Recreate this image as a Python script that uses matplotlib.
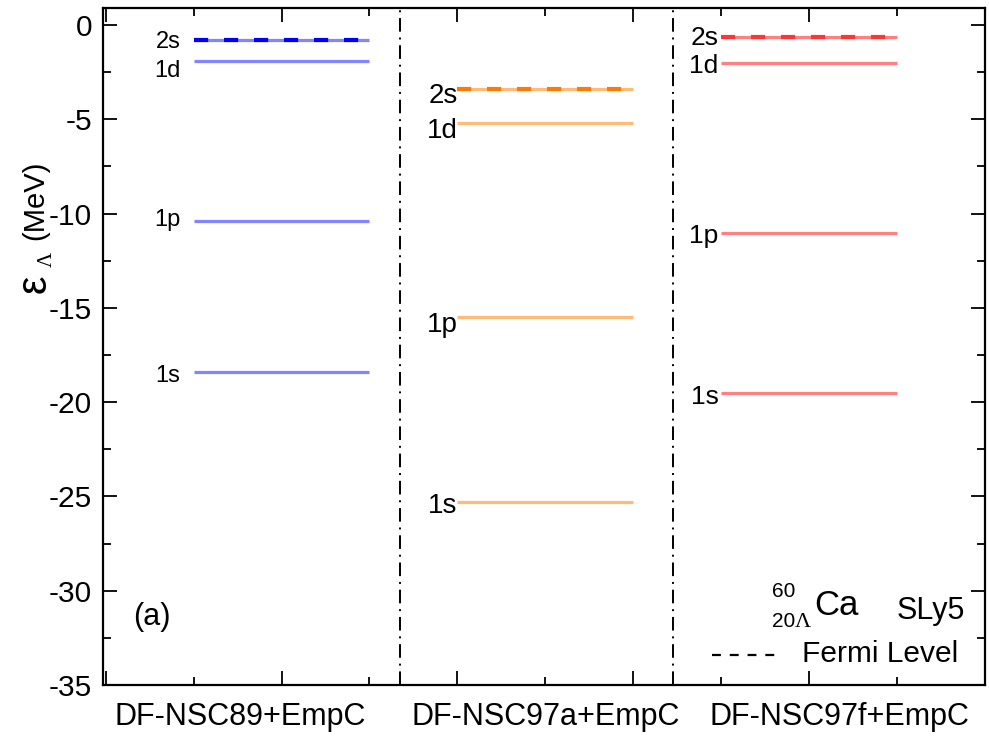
import matplotlib
matplotlib.use("Agg")
import matplotlib.pyplot as plt
from matplotlib.ticker import MultipleLocator

plt.rcParams['font.family'] = ['Liberation Sans', 'DejaVu Sans']
plt.rcParams['axes.unicode_minus'] = False

# single-particle Lambda levels (MeV), 60/20Lambda Ca with SLy5
models = ['DF-NSC89+EmpC', 'DF-NSC97a+EmpC', 'DF-NSC97f+EmpC']
levels = ['2s', '1d', '1p', '1s']
e_nsc89 = [-0.80, -1.89, -10.37, -18.38]
e_nsc97a = [-3.39, -5.21, -15.50, -25.28]
e_nsc97f = [-0.62, -2.03, -11.01, -19.53]
fermi = [-0.80, -3.39, -0.62]   # highest occupied = 2s

energies = [e_nsc89, e_nsc97a, e_nsc97f]

# styling
light = ['#8484ff', '#ffbb78', '#ff8080']
dark = ['#0000ff', '#ff7a00', '#ff3535']
x_ranges = [(1, 3), (4, 6), (7, 9)]
lab_x = [0.85, 4.0, 6.97]
lab_size = [17, 20, 19]
# how far (px) the label baseline sits below the level line
lab_drop = [[8, 16, 5, 10], [14, 15, 15, 11], [8, 10, 10, 11]]
title_x = [1.53, 5.0, 8.35]

fig = plt.figure(figsize=(9.89, 7.40), dpi=100)
ax = fig.add_axes([103/989, 55/740, 882/989, 677/740])

for i in range(3):
    x0, x1 = x_ranges[i]
    for j, e in enumerate(energies[i]):
        ax.plot([x0, x1], [e, e], color=light[i], lw=2.3, solid_capstyle='butt')
        ax.annotate(levels[j], xy=(lab_x[i], e), xytext=(0, -lab_drop[i][j]*0.72),
                    textcoords='offset points', ha='right', va='baseline',
                    fontsize=lab_size[i])
    ax.plot([x0, x1], [fermi[i], fermi[i]], color=dark[i], lw=3,
            dashes=(3.4, 3.8), dash_capstyle='butt')
    ax.text(title_x[i], -0.047, models[i], transform=ax.get_xaxis_transform(),
            ha='center', va='center', fontsize=22)

for xv in [3.35, 6.45]:
    ax.axvline(xv, color='black', lw=1.4, linestyle=(0, (7, 3, 1, 3)))

ax.set_xlim(-0.03, 10)
ax.set_ylim(-35, 0.9)
ax.xaxis.set_major_locator(MultipleLocator(2))
ax.xaxis.set_minor_locator(MultipleLocator(1))
ax.yaxis.set_major_locator(MultipleLocator(5))
ax.yaxis.set_minor_locator(MultipleLocator(2.5))
ax.tick_params(which='both', direction='in', top=True, right=True,
               labelbottom=False, width=1.3)
ax.tick_params(which='major', length=10, labelsize=21.5, pad=8)
ax.tick_params(which='minor', length=6)
for s in ax.spines.values():
    s.set_linewidth(1.6)

# y label: big epsilon, Lambda subscript, unit
fig.text(35/989, 1 - 284/740, 'ε', rotation=90, fontsize=30, ha='center', va='center')
fig.text(47/989, 1 - 259/740, 'Λ', rotation=90, fontsize=15, ha='center', va='center',
         family=['Liberation Serif', 'DejaVu Serif'])
fig.text(35/989, 1 - 200/740, '(MeV)', rotation=90, fontsize=21, ha='center', va='center')

ax.text(0.034, 0.100, '(a)', transform=ax.transAxes, fontsize=22, va='center')

# nucleus label
ax.text(0.7585, 0.130, '60', transform=ax.transAxes, fontsize=15, va='baseline')
ax.text(0.7585, 0.0857, '20', transform=ax.transAxes, fontsize=15, va='baseline')
ax.text(0.784, 0.0857, 'Λ', transform=ax.transAxes, fontsize=16, va='baseline',
        family=['Liberation Serif', 'DejaVu Serif'])
ax.text(0.806, 0.103, 'Ca', transform=ax.transAxes, fontsize=25, va='baseline')
ax.text(0.900, 0.0975, 'SLy5', transform=ax.transAxes, fontsize=22, va='baseline')

# Fermi level key
ax.plot([0.69, 0.765], [0.044, 0.044], transform=ax.transAxes, color='black',
        lw=1.6, dashes=(4, 4))
ax.text(0.7925, 0.034, 'Fermi Level', transform=ax.transAxes, fontsize=21.5, va='baseline')

fig.savefig('out.png', dpi=100)
